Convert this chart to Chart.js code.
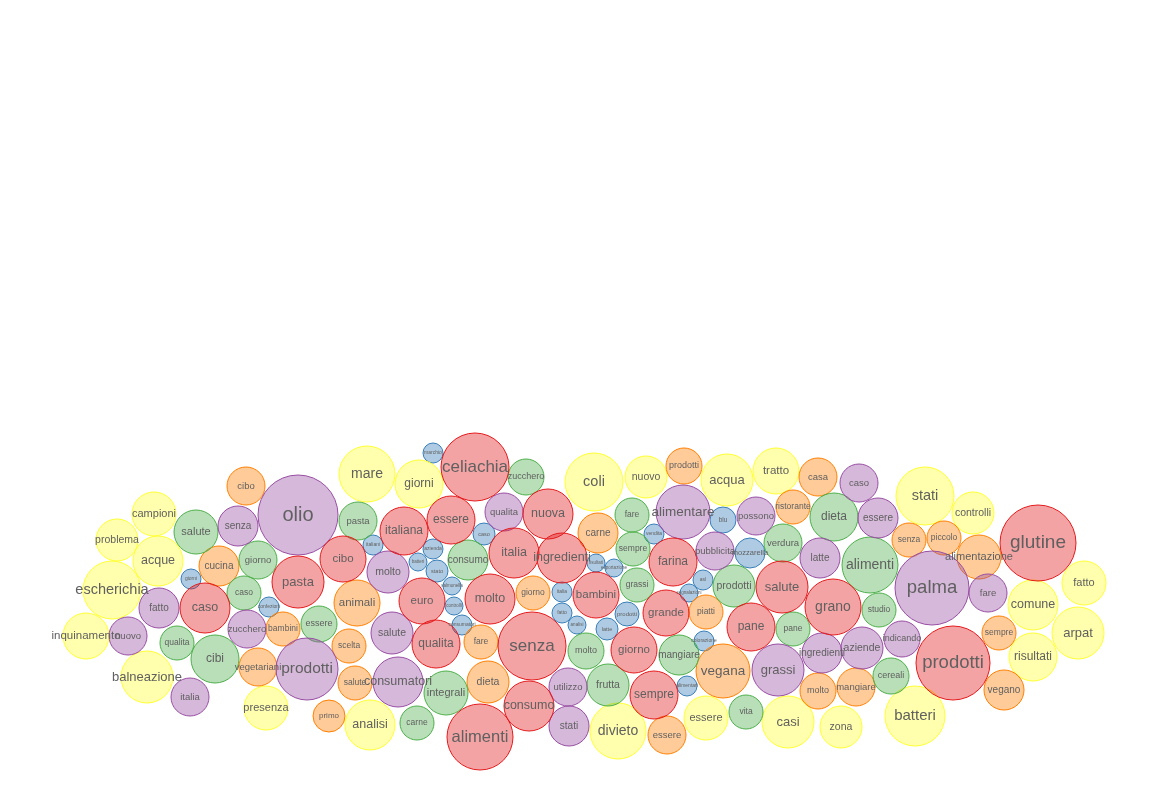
<!DOCTYPE html>
<html>
<head>
<meta charset="utf-8">
<script src="https://cdn.jsdelivr.net/npm/chart.js@4/dist/chart.umd.min.js"></script>
<style>
  html, body { margin: 0; padding: 0; background: #ffffff; }
  #wrap { width: 1152px; height: 800px; }
</style>
</head>
<body>
<div id="wrap"><canvas id="c" width="1152" height="800"></canvas></div>
<script>
// ---- Topic 1 (red) ----
const redWords = ["pasta","caso","cibo","italiana","essere","celiachia","nuova","italia","ingredienti","euro","molto","qualita","senza","consumo","alimenti","bambini","farina","grande","giorno","sempre","salute","pane","grano","glutine","prodotti"];
const redX = [298,205,343,404,451,475,548,514,562,422,490,436,532,529,480,596,673,666,634,654,782,751,833,1038,953];
const redY = [582,608,559,531,520,467,514,553,558,601,599,644,646,706,737,595,562,613,650,695,587,627,607,543,663];
const redR = [26,25,23,24,24,34,25,25,25,23,25,24,34,25,33,23,24,23,23,24,26,24,28,38,37];

// ---- Topic 2 (purple) ----
const purpleWords = ["olio","senza","fatto","nuovo","italia","zucchero","prodotti","molto","salute","consumatori","qualita","utilizzo","stati","alimentare","possono","pubblicita","latte","caso","essere","grassi","ingredienti","aziende","indicando","palma","fare"];
const purpleX = [298,238,159,128,190,247,307,388,392,398,504,568,569,683,756,715,820,859,878,778,822,862,902,932,988];
const purpleY = [515,526,608,636,697,629,669,572,633,682,512,687,726,512,516,551,558,483,518,670,653,648,639,588,593];
const purpleR = [40,20,20,19,19,19,31,21,21,25,19,19,20,27,19,19,20,19,20,26,20,21,18,37,19];

// ---- Topic 3 (green) ----
const greenWords = ["salute","giorno","caso","qualita","cibi","essere","pasta","zucchero","consumo","integrali","carne","molto","frutta","fare","sempre","grassi","prodotti","verdura","dieta","mangiare","vita","pane","alimenti","studio","cereali"];
const greenX = [196,258,244,177,215,319,358,526,468,446,417,586,608,632,633,637,734,783,834,679,746,793,870,879,891];
const greenY = [532,560,593,643,659,624,521,477,560,693,723,651,685,515,549,585,586,543,517,655,712,629,565,610,676];
const greenR = [22,19,17,17,24,18,19,18,20,22,17,18,21,17,17,17,21,19,24,20,17,17,28,17,18];

// ---- Topic 4 (orange) ----
const orangeWords = ["cibo","cucina","bambini","vegetariani","animali","scelta","salute","primo","giorno","fare","dieta","carne","prodotti","ristorante","casa","piatti","essere","vegana","molto","mangiare","senza","piccolo","alimentazione","sempre","vegano"];
const orangeX = [246,219,283,258,357,349,355,329,533,481,488,598,684,793,818,706,667,723,818,856,909,944,979,999,1004];
const orangeY = [486,566,629,667,603,646,683,716,593,642,682,533,466,507,477,612,735,671,691,687,540,538,557,633,690];
const orangeR = [19,20,17,19,23,17,17,16,17,17,21,20,18,17,19,17,19,27,18,19,17,17,22,17,20];

// ---- Topic 5 (yellow) ----
const yellowWords = ["campioni","problema","acque","escherichia","inquinamento","balneazione","presenza","mare","giorni","analisi","coli","nuovo","acqua","tratto","divieto","essere","casi","zona","batteri","stati","controlli","fatto","comune","arpat","risultati"];
const yellowX = [154,117,158,112,86,147,266,367,419,370,594,646,727,776,618,706,788,841,915,925,973,1084,1033,1078,1033];
const yellowY = [514,540,561,590,636,677,708,474,484,725,482,477,480,471,731,718,722,727,716,496,513,583,605,633,657];
const yellowR = [22,21,25,29,23,26,22,28,24,25,29,21,26,23,28,22,26,21,30,29,21,22,25,26,24];

// ---- Topic 6 (blue) ----
const blueWords = ["giorni","confezioni","marchio","italiani","azienda","batteri","stato","salmonella","controlli","consumatori","caso","italia","fatto","analisi","latte","prodotti","risultati","esportazione","vendita","blu","mozzarella","asl","segnalazioni","colorazione","alimentari"];
const blueX = [191,269,433,373,433,418,437,452,454,462,484,562,562,577,607,627,596,614,654,723,750,703,689,704,687];
const blueY = [579,607,453,545,549,562,571,586,606,625,534,592,613,625,629,614,563,568,534,520,553,580,593,641,686];
const blueR = [10,10,10,10,10,9,11,9,9,10,11,10,10,9,11,12,9,9,10,13,15,10,9,10,10];

const topics = [
  { words: redWords,    xs: redX,    ys: redY,    rs: redR,    stroke: "rgb(228,26,28)",  fill: "rgba(228,26,28,0.4)" },
  { words: purpleWords, xs: purpleX, ys: purpleY, rs: purpleR, stroke: "rgb(152,78,163)", fill: "rgba(152,78,163,0.4)" },
  { words: greenWords,  xs: greenX,  ys: greenY,  rs: greenR,  stroke: "rgb(77,175,74)",  fill: "rgba(77,175,74,0.4)" },
  { words: orangeWords, xs: orangeX, ys: orangeY, rs: orangeR, stroke: "rgb(255,127,0)",  fill: "rgba(255,127,0,0.4)" },
  { words: yellowWords, xs: yellowX, ys: yellowY, rs: yellowR, stroke: "rgb(255,255,51)", fill: "rgba(255,255,51,0.4)" },
  { words: blueWords,   xs: blueX,   ys: blueY,   rs: blueR,   stroke: "rgb(55,126,184)", fill: "rgba(55,126,184,0.4)" }
];

const datasets = topics.map((t, i) => ({
  label: "topic " + (i + 1),
  data: t.words.map((w, j) => ({ x: t.xs[j], y: t.ys[j], r: t.rs[j], word: w })),
  backgroundColor: t.fill,
  borderColor: t.stroke,
  borderWidth: 1,
  hoverRadius: 0,
  hoverBorderWidth: 1,
  clip: false
}));

const labelPlugin = {
  id: "bubbleLabels",
  afterDatasetsDraw(chart) {
    const ctx = chart.ctx;
    ctx.save();
    ctx.textAlign = "center";
    ctx.textBaseline = "middle";
    ctx.fillStyle = "#606060";
    chart.data.datasets.forEach((ds, i) => {
      const meta = chart.getDatasetMeta(i);
      meta.data.forEach((el, j) => {
        const d = ds.data[j];
        const size = d.r * 0.5;
        ctx.font = size.toFixed(1) + "px 'Liberation Sans', Arial, Helvetica, sans-serif";
        ctx.fillText(d.word, el.x, el.y);
      });
    });
    ctx.restore();
  }
};

new Chart(document.getElementById("c"), {
  type: "bubble",
  data: { datasets },
  options: {
    responsive: false,
    animation: false,
    events: [],
    layout: { padding: 0, autoPadding: false },
    plugins: { legend: { display: false }, tooltip: { enabled: false } },
    scales: {
      x: { type: "linear", min: 0, max: 1152, display: false },
      y: { type: "linear", min: 0, max: 800, reverse: true, display: false }
    }
  },
  plugins: [labelPlugin]
});
</script>
</body>
</html>
